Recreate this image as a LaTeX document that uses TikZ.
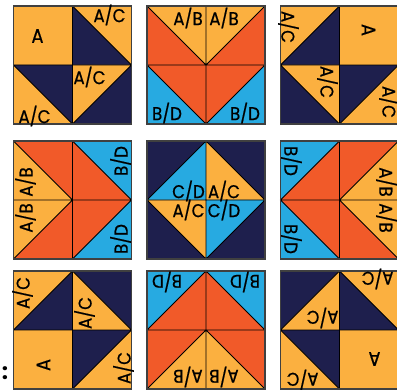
\documentclass[tikz,border=0pt]{standalone}
\usepackage{fontspec}
\setmainfont{Poppins}
\newfontfamily\lblfont{Poppins}[FakeBold=0.6, FakeStretch=0.9]
\definecolor{cA}{HTML}{FBB040}
\definecolor{cB}{HTML}{F15A29}
\definecolor{cC}{HTML}{1E1F4D}
\definecolor{cD}{HTML}{27AAE1}
\tikzset{
 lbl/.style={font=\lblfont\fontsize{18.5}{18.5}\selectfont, text=black, inner sep=0pt},
 seam/.style={draw=black, line width=0.9pt},
 rim/.style={draw=black!75, line width=1.4pt},
}
% block with a plain A square: name, cx, cy, angle
\newcommand{\hstA}[4]{%
\begin{scope}[shift={(#2,#3)}, rotate=#4]
\fill[cA] (-59,0) rectangle (0,59);
\fill[cC] (0,0) rectangle (59,59);
\fill[cA] (0,59) -- (59,59) -- (59,0) -- cycle;
\fill[cA] (-59,-59) rectangle (0,0);
\fill[cC] (-59,0) -- (0,0) -- (0,-59) -- cycle;
\fill[cC] (0,-59) rectangle (59,0);
\fill[cA] (0,0) -- (59,0) -- (0,-59) -- cycle;
\draw[seam] (-59,0) -- (59,0) (0,59) -- (0,-59) (0,59) -- (59,0) (-59,0) -- (0,-59) (59,0) -- (0,-59);
\draw[rim] (-59,-59) rectangle (59,59);
\node[lbl, rotate=#4, font=\lblfont\fontsize{20}{20}\selectfont] (#1a) at (-35,29) {A};
\node[lbl, rotate=#4] (#1b) at (37,50) {A/C};
\node[lbl, rotate=#4] (#1c) at (-38,-51) {A/C};
\node[lbl, rotate=#4] (#1d) at (17,-12) {A/C};
\end{scope}}
% arrow block: name, cx, cy, angle
\newcommand{\hstB}[4]{%
\begin{scope}[shift={(#2,#3)}, rotate=#4]
\fill[cB] (-59,-59) rectangle (59,59);
\fill[cA] (-59,59) -- (59,59) -- (0,0) -- cycle;
\fill[cD] (-59,0) -- (-59,-59) -- (0,-59) -- cycle;
\fill[cD] (59,0) -- (59,-59) -- (0,-59) -- cycle;
\draw[seam] (-59,0) -- (59,0) (0,59) -- (0,-59) (-59,59) -- (0,0) -- (59,59) (-59,0) -- (0,-59) -- (59,0);
\draw[rim] (-59,-59) rectangle (59,59);
\node[lbl, rotate=#4] (#1a) at (-18,47) {A/B};
\node[lbl, rotate=#4] (#1b) at (18,47) {A/B};
\node[lbl, rotate=#4] (#1c) at (-39,-48) {B/D};
\node[lbl, rotate=#4] (#1d) at (39,-48) {B/D};
\end{scope}}
\begin{document}
\begin{tikzpicture}[x=1pt,y=1pt]
\useasboundingbox (0,0) rectangle (397,390);
\fill[white] (0,0) rectangle (397,390);
\hstA{p}{72.5}{325}{0}
\hstB{q}{206}{325}{0}
\hstA{r}{339.5}{325}{-90}
\hstB{s}{72.5}{190}{90}
\hstB{u}{339.5}{190}{-90}
\hstA{v}{72.5}{60}{90}
\hstB{w}{206}{60}{180}
\hstA{z}{339.5}{60}{180}
% centre block
\begin{scope}[shift={(206,190)}]
\fill[cC] (-59,-59) rectangle (59,59);
\fill[cD] (0,59) -- (0,0) -- (-59,0) -- cycle;
\fill[cA] (0,59) -- (0,0) -- (59,0) -- cycle;
\fill[cA] (-59,0) -- (0,0) -- (0,-59) -- cycle;
\fill[cD] (59,0) -- (0,0) -- (0,-59) -- cycle;
\draw[seam] (-59,0) -- (59,0) (0,59) -- (0,-59) (0,59) -- (-59,0) -- (0,-59) -- (59,0) -- cycle;
\draw[rim] (-59,-59) rectangle (59,59);
\node[lbl] (ta) at (-17.5,9) {C/D};
\node[lbl] (tb) at (18,9) {A/C};
\node[lbl] (tc) at (-17.5,-10) {A/C};
\node[lbl] (td) at (18,-10) {C/D};
\end{scope}
\node[font=\fontsize{22}{22}\selectfont\bfseries, inner sep=0pt] (colon) at (5,17) {:};
\end{tikzpicture}
\end{document}
